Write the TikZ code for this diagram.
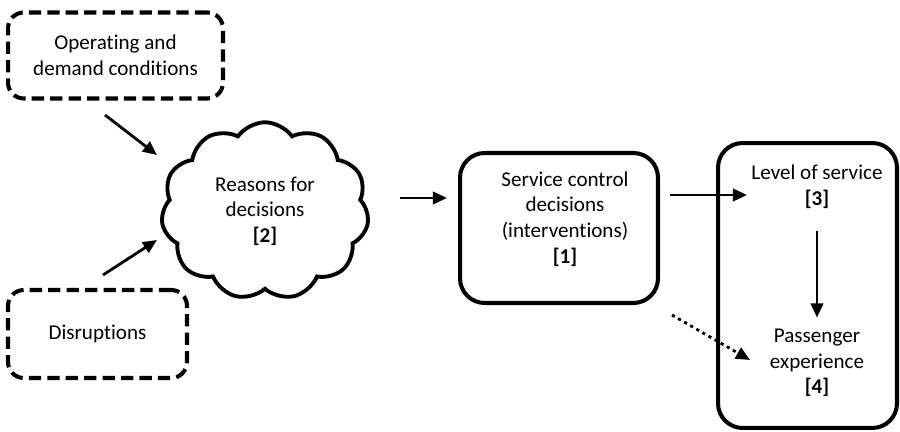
\documentclass[tikz,border=0pt]{standalone}
\usepackage{fontspec}
\setmainfont[Ligatures=NoCommon]{Carlito}
\usetikzlibrary{arrows.meta,shapes.symbols}
\tikzset{>={Triangle[length=8pt,width=7pt]}}

\begin{document}
\begin{tikzpicture}[x=0.02cm,y=-0.02cm,
  every node/.style={font=\fontsize{12}{14.6}\selectfont,align=center},
  dashbox/.style={draw,line width=2.3pt,dash pattern=on 7pt off 3.5pt,rounded corners=9pt},
  solidbox/.style={draw,line width=2.3pt,rounded corners=14pt},
  arr/.style={->,line width=1.6pt}]
\useasboundingbox (0,0) rectangle (900,432);

% inputs
\node[dashbox,minimum width=4.3cm,minimum height=1.72cm] (op) at (115.5,55.5)
  {Operating and\\demand conditions};
\node[dashbox,minimum width=3.58cm,minimum height=1.76cm] (dis) at (97.5,334)
  {Disruptions};

% reasons
\node[cloud,draw,line width=2.2pt,cloud puffs=11,cloud puff arc=110,aspect=1.2,
  minimum width=4.15cm,minimum height=3.55cm] (cl) at (265,211)
  {Reasons for\\decisions\\\textbf{[2]}};

% decisions
\node[solidbox,minimum width=3.96cm,minimum height=3cm] (svc) at (559,228) {};
\node (svct) at (565,219) {Service control\\decisions\\(interventions)\\\textbf{[1]}};

% outcomes
\node[solidbox,minimum width=3.58cm,minimum height=5.7cm] (out) at (807.5,285.5) {};
\node (los) at (817,187) {Level of service\\\textbf{[3]}};
\node (pax) at (817,363) {Passenger\\experience\\\textbf{[4]}};

\coordinate (op-o) at (105,115);
\coordinate (cl-i1) at (157,155);
\coordinate (dis-o) at (103,275);
\coordinate (cl-i2) at (157,240);
\coordinate (cl-o) at (400,198);
\coordinate (svc-i) at (447,198);
\coordinate (svc-o) at (670,195);
\coordinate (los-i) at (747,195);
\coordinate (svc-d) at (672,315);
\coordinate (pax-i) at (750,360);

\draw[arr] (op-o) -- (cl-i1);
\draw[arr] (dis-o) -- (cl-i2);
\draw[arr] (cl-o) -- (svc-i);
\draw[arr] (svc-o) -- (los-i);
\draw[arr,shorten <=9pt,shorten >=3pt] (los) -- (pax);
\draw[arr,dash pattern=on 1.8pt off 2.2pt] (svc-d) -- (pax-i);
\end{tikzpicture}
\end{document}
